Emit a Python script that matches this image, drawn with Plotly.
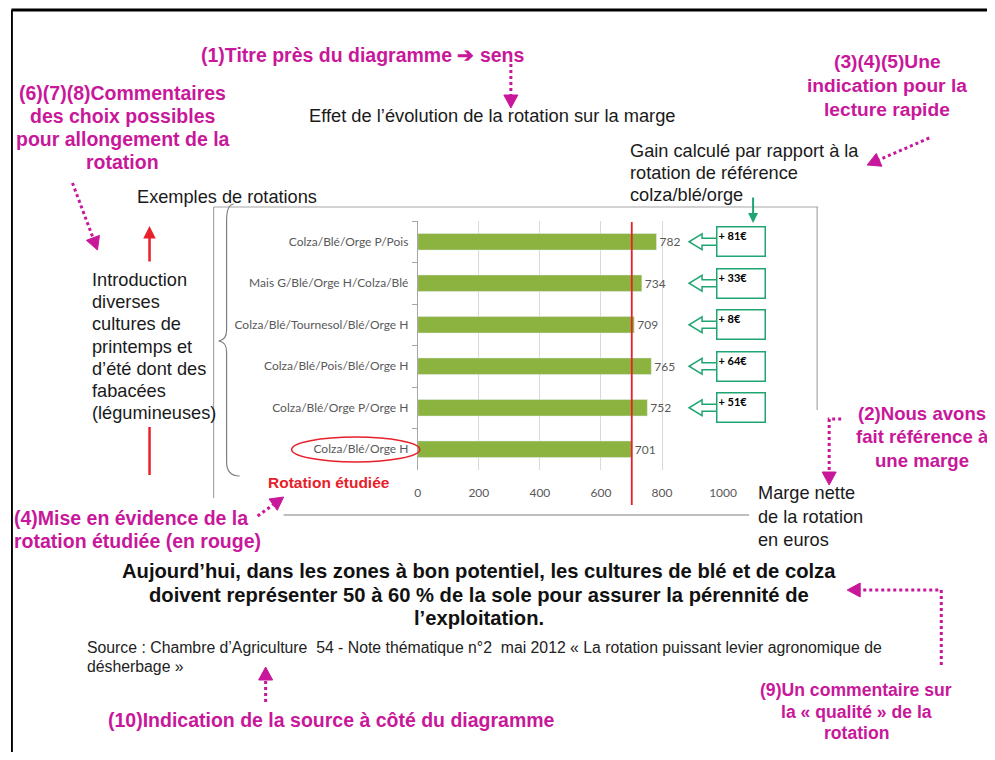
import numpy as np
import plotly.graph_objects as go

### Données
rotations = ['Colza/Blé/Orge P/Pois', 'Mais G/Blé/Orge H/Colza/Blé', 'Colza/Blé/Tournesol/Blé/Orge H',
             'Colza/Blé/Pois/Blé/Orge H', 'Colza/Blé/Orge P/Orge H', 'Colza/Blé/Orge H']
marge = [782, 734, 709, 765, 752, 701]
reference = 701   # rotation étudiée colza/blé/orge
x_ticks = [0, 200, 400, 600, 800, 1000]

# gain par rapport à la rotation de référence
gains = [m - reference for m in marge[:-1]]

### Styles
ARIAL = 'Liberation Sans, Arial, sans-serif'
CALIB = 'Lato, Carlito, Calibri, sans-serif'
MAG = '#c8179a'
RED = '#e8202a'
GREEN_BOX = '#1fa572'
BAR = '#8cb33f'
GREY = '#595959'

# repère "pixel" de l'image (ajusté au rendu de la page)
W, H = 995, 744
X0, SX = 10.6, 0.982
Y0 = 8
plot_top, plot_bot = 221, 470
plot_left, plot_right = 417, 722
row_h = (plot_bot - plot_top) / len(rotations)


def dx(px):
    return (px - X0) / (SX * W)


def dy(py):
    return 1 - (py - Y0) / H


fig = go.Figure()

# diagramme en barres horizontales
fig.add_trace(go.Bar(x=marge, y=rotations, orientation='h',
                     marker_color=BAR, width=0.4,
                     text=marge, textposition='outside', cliponaxis=False,
                     textfont=dict(family=CALIB, size=12, color=GREY),
                     hoverinfo='skip', showlegend=False))

# axes "pixel" invisibles pour les annotations
fig.add_trace(go.Scatter(x=[X0 + 1], y=[Y0 + 1], xaxis='x2', yaxis='y2', mode='markers',
                         marker=dict(opacity=0), hoverinfo='skip', showlegend=False))

shapes = []
anns = []


def line(x0, y0, x1, y1, color, width=1.2, dash=None):
    shapes.append(dict(type='line', xref='x2', yref='y2', x0=x0, y0=y0, x1=x1, y1=y1,
                       line=dict(color=color, width=width, dash=dash)))


def txt(lines, x, y0, step, size, color='#1a1a1a', bold=False, anchor='left', family=ARIAL):
    shift = {'left': -3, 'center': 0, 'right': 3}[anchor]
    for k, s in enumerate(lines):
        if bold:
            s = '<b>' + s + '</b>'
        anns.append(dict(x=x + shift, y=y0 + k * step, xref='x2', yref='y2', text=s, showarrow=False,
                         xanchor=anchor, yanchor='middle',
                         font=dict(family=family, size=size, color=color)))


def dotted_arrow(pts, color=MAG, head=13, half=7):
    pts = [np.array(p, dtype=float) for p in pts]
    a, b = pts[-2], pts[-1]
    d = (b - a) / np.linalg.norm(b - a)
    n = np.array([-d[1], d[0]])
    base = b - d * head
    path_pts = pts[:-1] + [base]
    path = 'M ' + ' L '.join(f'{p[0]:.1f} {p[1]:.1f}' for p in path_pts)
    shapes.append(dict(type='path', xref='x2', yref='y2', path=path,
                       line=dict(color=color, width=3, dash='dot')))
    c1, c2 = base + n * half, base - n * half
    tri = f'M {b[0]:.1f} {b[1]:.1f} L {c1[0]:.1f} {c1[1]:.1f} L {c2[0]:.1f} {c2[1]:.1f} Z'
    shapes.append(dict(type='path', xref='x2', yref='y2', path=tri,
                       fillcolor=color, line=dict(color=color, width=1)))


### cadre de la page
line(11, 10, 1000, 10, 'black', 3)
line(11, 10, 11, 760, 'black', 3)

### cadre du graphique + accolade
line(213, 207, 817, 207, '#a6a6a6')
line(213, 207, 213, 498, '#a6a6a6')
line(816, 207, 816, 410, '#a6a6a6')
line(283, 515, 748, 515, '#7f7f7f')
shapes.append(dict(type='path', xref='x2', yref='y2',
                   path='M 233 204 Q 226 205 226 220 L 226 330 Q 226 340 218 341 '
                        'Q 226 342 226 352 L 226 462 Q 226 476 239 476',
                   line=dict(color='#7f7f7f', width=1.2)))

# ligne de référence (rotation étudiée)
shapes.append(dict(type='line', xref='x', yref='y2', x0=reference, x1=reference, y0=222, y1=505,
                   line=dict(color=RED, width=1.8)))
# ellipse autour de la rotation étudiée
shapes.append(dict(type='circle', xref='x2', yref='y2', x0=291, x1=419, y0=437, y1=462,
                   line=dict(color=RED, width=1.5)))

### gains : cadres verts + flèches creuses
for i, g in enumerate(gains):
    yc = plot_top + (i + 0.5) * row_h
    anns.append(dict(x=740, y=yc, xref='x2', yref='y2', text='<b>+ ' + str(g) + '€</b>',
                     showarrow=False, width=45, height=26, align='left', valign='top',
                     bordercolor=GREEN_BOX, borderwidth=1.5, borderpad=1, bgcolor='white',
                     font=dict(family=CALIB, size=11, color='black')))
    shapes.append(dict(type='path', xref='x2', yref='y2',
                       path=f'M 716 {yc-3.5} L 701 {yc-3.5} L 701 {yc-8} L 688 {yc} '
                            f'L 701 {yc+8} L 701 {yc+3.5} L 716 {yc+3.5}',
                       line=dict(color=GREEN_BOX, width=1.5)))

# flèche verte vers le premier cadre
anns.append(dict(x=752, y=223, ax=752, ay=196, xref='x2', yref='y2', axref='x2', ayref='y2',
                 text='', showarrow=True, arrowhead=2, arrowsize=1, arrowwidth=2, arrowcolor=GREEN_BOX))

# flèches rouges
anns.append(dict(x=149, y=226, ax=149, ay=263, xref='x2', yref='y2', axref='x2', ayref='y2',
                 text='', showarrow=True, arrowhead=2, arrowsize=1, arrowwidth=2.5, arrowcolor=RED))
line(149, 427, 149, 475, RED, 2.5)

### textes du graphique
txt(['Effet de l’évolution de la rotation sur la marge'], 492, 115, 0, 18.3, anchor='center')
txt(['Exemples de rotations'], 137, 197, 0, 18.2)
txt(['Gain calculé par rapport à la', 'rotation de référence', 'colza/blé/orge'], 630, 151, 22, 18.2)
txt(['Introduction', 'diverses', 'cultures de', 'printemps et', 'd’été dont des', 'fabacées',
     '(légumineuses)'], 93, 280, 22.2, 18.2)
txt(['Marge nette', 'de la rotation', 'en euros'], 758, 493, 23.5, 18.2)
txt(['Rotation étudiée'], 328, 482, 0, 15.5, color=RED, bold=True, anchor='center')

txt(['Aujourd’hui, dans les zones à bon potentiel, les cultures de blé et de colza',
     'doivent représenter 50 à 60 % de la sole pour assurer la pérennité de',
     'l’exploitation.'], 478, 571, 23.5, 20.2, color='#111111', bold=True, anchor='center')
txt(['Source : Chambre d’Agriculture  54 - Note thématique n°2  mai 2012 « La rotation puissant levier agronomique de',
     'désherbage »'], 88, 647, 19, 15.8, color='#222222')

### commentaires en magenta
txt(['(1)Titre près du diagramme ➔ sens'], 362, 55, 0, 19.5, color=MAG, bold=True, anchor='center')
txt(['(6)(7)(8)Commentaires', 'des choix possibles', 'pour allongement de la', 'rotation'],
    122, 93, 23, 19.5, color=MAG, bold=True, anchor='center')
txt(['(3)(4)(5)Une', 'indication pour la', 'lecture rapide'], 886, 61, 24, 19.2,
    color=MAG, bold=True, anchor='center')
txt(['(2)Nous avons', 'fait référence à', 'une marge'], 921, 413, 23.5, 18.6,
    color=MAG, bold=True, anchor='center')
txt(['(4)Mise en évidence de la', 'rotation étudiée (en rouge)'], 15, 518, 23, 19.5,
    color=MAG, bold=True)
txt(['(10)Indication de la source à côté du diagramme'], 331, 720, 0, 19.5,
    color=MAG, bold=True, anchor='center')
txt(['(9)Un commentaire sur', 'la « qualité » de la', 'rotation'], 855, 690, 21.5, 17.6,
    color=MAG, bold=True, anchor='center')

dotted_arrow([(510, 64), (510, 108)])
dotted_arrow([(72, 183), (97, 250)])
dotted_arrow([(928, 138), (866, 165)])
dotted_arrow([(840, 419), (828, 419), (828, 485)])
dotted_arrow([(257, 516), (283, 497)])
dotted_arrow([(940, 665), (940, 590), (846, 590)])
dotted_arrow([(265, 702), (265, 667)])

fig.update_layout(
    width=W, height=H,
    margin=dict(l=0, r=0, t=0, b=0),
    paper_bgcolor='white', plot_bgcolor='rgba(0,0,0,0)',
    xaxis=dict(domain=[dx(plot_left), dx(plot_right)], range=[0, 1000], tickvals=x_ticks,
               showgrid=True, gridcolor='#d9d9d9', gridwidth=1, zeroline=False, showline=False,
               ticks='', ticklabelstandoff=14,
               tickfont=dict(family=CALIB, size=12, color=GREY), fixedrange=True),
    yaxis=dict(domain=[dy(plot_bot), dy(plot_top)], autorange='reversed',
               showline=True, linecolor='#a6a6a6', linewidth=1,
               ticks='outside', tickson='boundaries', ticklen=5, tickcolor='#a6a6a6',
               ticklabelstandoff=6, showgrid=False,
               tickfont=dict(family=CALIB, size=12, color=GREY), fixedrange=True),
    xaxis2=dict(domain=[0, 1], range=[X0, X0 + SX * W], visible=False, anchor='y2', fixedrange=True),
    yaxis2=dict(domain=[0, 1], range=[Y0 + H, Y0], visible=False, anchor='x2', fixedrange=True),
    shapes=shapes,
    annotations=anns,
    bargap=0.6,
)

fig.write_html("out.html")
